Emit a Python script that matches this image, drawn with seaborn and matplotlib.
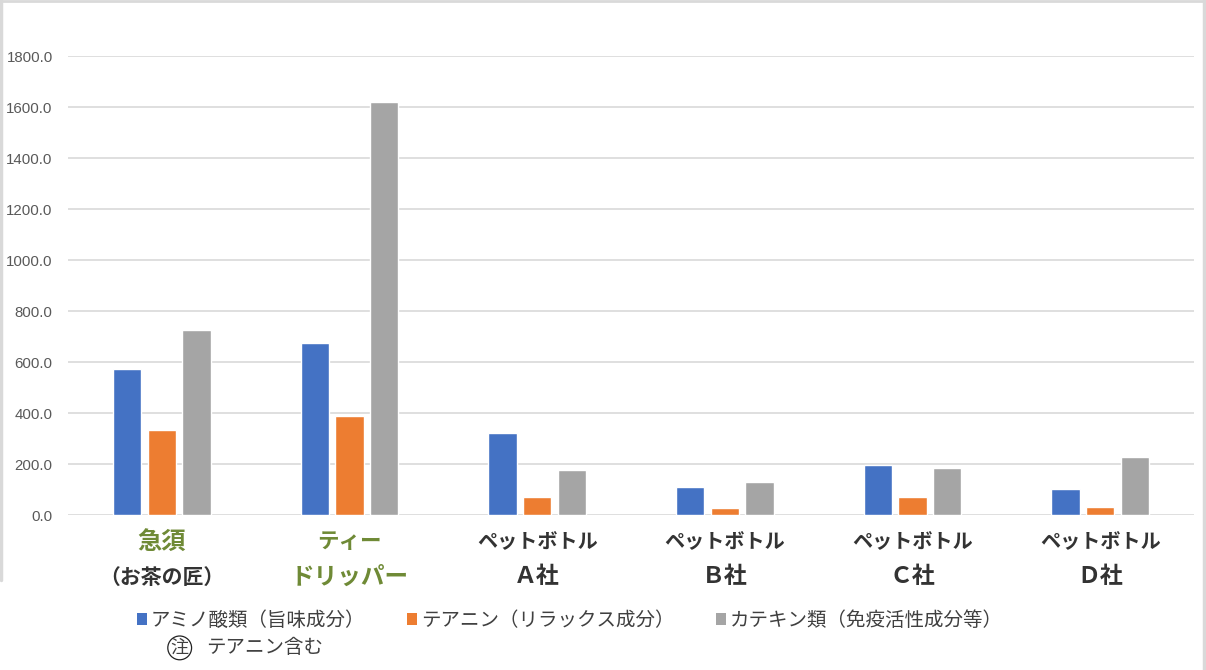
import matplotlib
matplotlib.use("Agg")
import matplotlib.pyplot as plt
from matplotlib.patches import Patch
from matplotlib.lines import Line2D
import seaborn as sns
import pandas as pd

categories = ["急須", "ティー", "ペットボトル A", "ペットボトル B", "ペットボトル C", "ペットボトル D"]
label_line1 = ["急須", "ティー", "ペットボトル", "ペットボトル", "ペットボトル", "ペットボトル"]
label_line2 = ["（お茶の匠）", "ドリッパー", "Ａ社", "Ｂ社", "Ｃ社", "Ｄ社"]
series_names = ["アミノ酸類（旨味成分）", "テアニン（リラックス成分）", "カテキン類（免疫活性成分等）"]
amino = [571, 676, 323, 111, 196, 103]
theanine = [332, 388, 72, 28, 72, 32]
catechin = [727, 1618, 177, 131, 186, 227]
yticks = [0, 200, 400, 600, 800, 1000, 1200, 1400, 1600, 1800]
note_text = "テアニン含む"

colors = ["#4472C4", "#ED7D31", "#A5A5A5"]

rows = []
for i, c in enumerate(categories):
    for s, vals in zip(series_names, [amino, theanine, catechin]):
        rows.append({"cat": c, "series": s, "value": vals[i]})
df = pd.DataFrame(rows)

sns.set_theme(style="white")
plt.rcParams['font.family'] = ['Noto Sans CJK JP', 'DejaVu Sans']

fig = plt.figure(figsize=(12.06, 6.70), dpi=100)
ax = fig.add_axes([68 / 1206, 0.2313, 1126 / 1206, 0.6851])

sns.barplot(data=df, x="cat", y="value", hue="series", palette=colors,
            width=0.555, gap=0.19, ax=ax, legend=False, saturation=1,
            order=categories, hue_order=series_names)

ax.set_ylim(0, 1800)
ax.set_xlim(-0.5, len(categories) - 0.5)
ax.set_yticks(yticks)
ax.set_yticklabels([f"{v:.1f}" for v in yticks], fontsize=10.8, color="#595959",
                   family=["Liberation Sans"])
ax.yaxis.grid(True, color="#D9D9D9", linewidth=1.2)
ax.set_axisbelow(True)
for sp in ax.spines.values():
    sp.set_visible(False)
ax.tick_params(axis="y", length=0, pad=11)
ax.tick_params(axis="x", length=0)
ax.set_xticks(range(len(categories)))
ax.set_xticklabels([""] * len(categories))
ax.set_xlabel("")
ax.set_ylabel("")

green = "#6F8A36"
dark = "#333333"
for i in range(len(categories)):
    if i == 0:
        c1, c2, s1, s2 = green, dark, 17.5, 15
    elif i == 1:
        c1, c2, s1, s2 = green, green, 15.5, 17
    else:
        c1, c2, s1, s2 = dark, dark, 14.5, 16.5
    ax.text(i, -0.058, label_line1[i], transform=ax.get_xaxis_transform(),
            ha="center", va="center", fontsize=s1, color=c1, fontweight="bold")
    ax.text(i, -0.135, label_line2[i], transform=ax.get_xaxis_transform(),
            ha="center", va="center", fontsize=s2, color=c2, fontweight="bold")

handles = [Patch(facecolor=c, edgecolor="none") for c in colors]
fig.legend(handles, series_names, loc="center left", bbox_to_anchor=(0.0995, 0.074),
           ncol=3, frameon=False, fontsize=14, handlelength=0.5, handleheight=0.5,
           handletextpad=0.2, columnspacing=2.15, labelcolor="#404040")

fig.text(0.149, 0.033, "注", fontsize=13, color="#404040", ha="center", va="center",
         bbox=dict(boxstyle="circle,pad=0.16", facecolor="white", edgecolor="#222222", linewidth=0.9))
fig.text(0.171, 0.033, note_text, fontsize=14, color="#404040", ha="left", va="center")

border = "#D9D9D9"
fig.add_artist(Line2D([0.001, 0.001], [1 - 580 / 670, 1.0], color=border, linewidth=2.5, transform=fig.transFigure))
fig.add_artist(Line2D([0.0, 1.0], [0.999, 0.999], color=border, linewidth=2, transform=fig.transFigure))
fig.add_artist(Line2D([0.9985, 0.9985], [0.0, 1.0], color=border, linewidth=2.5, transform=fig.transFigure))

fig.savefig("out.png", dpi=100, facecolor="white")
